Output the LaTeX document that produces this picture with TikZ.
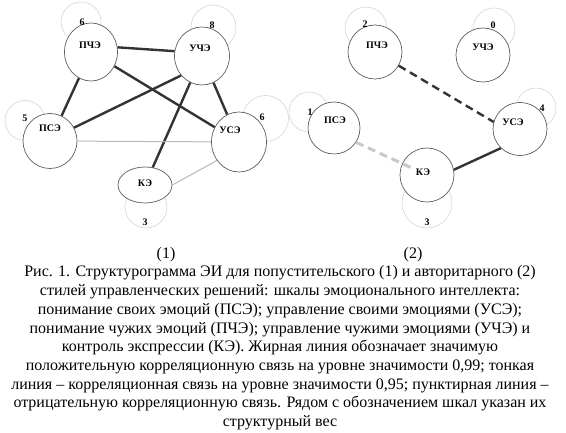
\documentclass[tikz,border=0pt]{standalone}
\usepackage{fontspec}
\setmainfont{Liberation Serif}
\usetikzlibrary{shapes.geometric}
\definecolor{ringc}{HTML}{5E5E5E}
\definecolor{decoc}{HTML}{D4D4D4}
\definecolor{strongc}{HTML}{333333}
\definecolor{weakc}{HTML}{B8B8B8}
\definecolor{negweakc}{HTML}{C8C8C8}
\tikzset{
  scale node/.style={ellipse, draw=ringc, line width=0.7pt, fill=white, inner sep=0pt},
  deco/.style={draw=decoc, line width=0.6pt},
  nodetext/.style={font=\fontsize{10}{11}\selectfont\bfseries, inner sep=0pt},
  weight/.style={font=\fontsize{10}{11}\selectfont\bfseries, inner sep=0pt},
  strong/.style={draw=strongc, line width=2.4pt},
  weak/.style={draw=weakc, line width=1pt},
  negstrong/.style={draw=strongc, line width=2.4pt, dash pattern=on 8pt off 5pt},
  negweak/.style={draw=negweakc, line width=3pt, dash pattern=on 8pt off 5pt},
  capline/.style={font=\fontsize{16}{18.7}\selectfont, anchor=base, inner sep=0pt},
}
\begin{document}
\begin{tikzpicture}[x=1pt,y=-1pt]
\useasboundingbox (0,0) rectangle (566,433);
% ---------- panel 1: decorative weight rings ----------
\draw[deco] (81,22) circle (20);
\draw[deco] (213.5,27.5) circle (22.5);
\draw[deco] (25,120.5) circle (20);
\draw[deco] (265.5,118.5) circle (23);
\draw[deco] (146,207) circle (21);
% ---------- panel 1: scales ----------
\node[scale node, minimum width=53pt, minimum height=58pt] (pche1) at (91,52) {};
\node[scale node, minimum width=55pt, minimum height=58pt] (uche1) at (202,56) {};
\node[scale node, minimum width=54pt, minimum height=55pt] (pse1) at (50,141) {};
\node[scale node, minimum width=55pt, minimum height=60pt] (use1) at (239,142) {};
\node[scale node, minimum width=54pt, minimum height=36pt] (ke1) at (145,185) {};
\node[nodetext] at (90,45) {ПЧЭ};
\node[nodetext] at (200,48) {УЧЭ};
\node[nodetext] at (50,128) {ПСЭ};
\node[nodetext] at (230,130) {УСЭ};
\node[nodetext] at (145,183) {КЭ};
% ---------- panel 1: links ----------
\draw[strong] (pche1.10) -- (uche1.170);
\draw[strong] (pche1) -- (pse1);
\draw[strong] (pche1) -- (use1);
\draw[strong] (uche1.223) -- (pse1.29);
\draw[strong] (uche1) -- (use1);
\draw[strong] (uche1) -- (ke1);
\draw[weak] (pse1) -- (use1);
\draw[weak] (use1.220) -- (ke1.0);
% ---------- panel 1: weights ----------
\node[weight] at (82,22) {6};
\node[weight] at (212,25) {8};
\node[weight] at (25,118) {5};
\node[weight] at (262,117) {6};
\node[weight] at (145,222) {3};
% ---------- panel 2: decorative weight rings ----------
\draw[deco] (366,28) circle (21);
\draw[deco] (494,29) circle (21);
\draw[deco] (309,112) circle (20);
\draw[deco] (536,108) circle (20);
\draw[deco] (427,203) circle (25);
% ---------- panel 2: scales ----------
\node[scale node, minimum width=54pt, minimum height=54pt] (pche2) at (375,52) {};
\node[scale node, minimum width=54pt, minimum height=54pt] (uche2) at (483,55) {};
\node[scale node, minimum width=52pt, minimum height=52pt] (pse2) at (334,128) {};
\node[scale node, minimum width=54pt, minimum height=53pt] (use2) at (520,129) {};
\node[scale node, minimum width=54pt, minimum height=54pt] (ke2) at (427,175) {};
\node[nodetext] at (377,45) {ПЧЭ};
\node[nodetext] at (483,47) {УЧЭ};
\node[nodetext] at (335,120) {ПСЭ};
\node[nodetext] at (513,122) {УСЭ};
\node[nodetext] at (423,172) {КЭ};
% ---------- panel 2: links ----------
\draw[negstrong] (pche2.330) -- (use2.165);
\draw[negweak, shorten >=17pt] (pse2.327) -- (ke2.center);
\draw[strong] (use2.225) -- (ke2.11);
% ---------- panel 2: weights ----------
\node[weight] at (365,24) {2};
\node[weight] at (493,25) {0};
\node[weight] at (310,112) {1};
\node[weight] at (542,108) {4};
\node[weight] at (427,222) {3};
% ---------- captions ----------
\node[capline] (lab1) at (166,259) {(1)};
\node[capline] (lab2) at (413,259) {(2)};
\node[capline] (c1) at (280,277) {Рис. 1. Структурограмма ЭИ для попустительского (1) и авторитарного (2)};
\node[capline] (c2) at (280,295.7) {стилей управленческих решений: шкалы эмоционального интеллекта:};
\node[capline] (c3) at (280,314.4) {понимание своих эмоций (ПСЭ); управление своими эмоциями (УСЭ);};
\node[capline] (c4) at (280,333.1) {понимание чужих эмоций (ПЧЭ); управление чужими эмоциями (УЧЭ) и};
\node[capline] (c5) at (280,351.8) {контроль экспрессии (КЭ). Жирная линия обозначает значимую};
\node[capline] (c6) at (280,370.5) {положительную корреляционную связь на уровне значимости 0,99; тонкая};
\node[capline] (c7) at (280,389.2) {линия – корреляционная связь на уровне значимости 0,95; пунктирная линия –};
\node[capline] (c8) at (280,407.9) {отрицательную корреляционную связь. Рядом с обозначением шкал указан их};
\node[capline] (c9) at (280,426.6) {структурный вес};
\end{tikzpicture}
\end{document}
